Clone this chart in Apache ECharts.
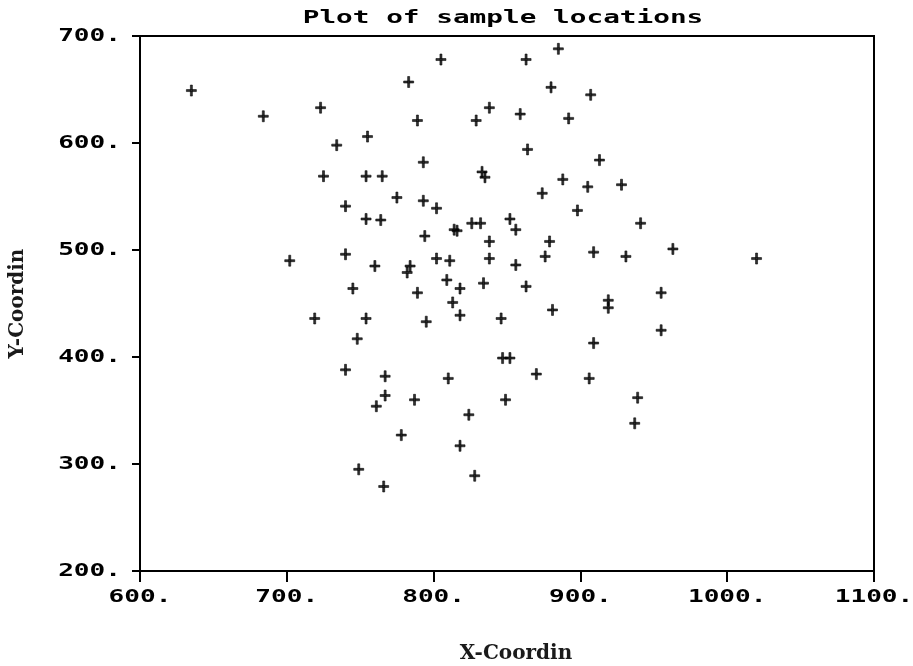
<!DOCTYPE html>
<html><head><meta charset="utf-8">
<script src="https://cdn.jsdelivr.net/npm/echarts@6/dist/echarts.min.js"></script>
<style>html,body{margin:0;padding:0;background:#fff}#c{width:913px;height:666px}</style>
</head><body><div id="c"></div>
<script>
const chartTitle = 'Plot of sample locations';
const xName = 'X-Coordin';
const yName = 'Y-Coordin';
const xTickValues = [600, 700, 800, 900, 1000, 1100];
const yTickValues = [200, 300, 400, 500, 600, 700];
const xCoord = [635,684,723,734,755,725,754,765,740,754,
  764,775,783,805,863,789,829,838,859,864,
  793,833,835,793,802,814,816,826,832,852,
  856,794,838,740,702,760,784,782,802,811,
  838,856,885,880,907,892,913,888,874,905,
  928,898,941,879,876,909,931,963,1020,745,
  789,809,818,834,863,813,818,719,754,795,
  846,748,847,852,740,767,810,767,787,849,
  761,824,778,818,749,828,766,955,919,919,
  881,955,909,870,906,939,937];
const yCoord = [649,625,633,598,606,569,569,569,541,529,
  528,549,657,678,678,621,621,633,627,594,
  582,573,568,546,539,519,518,525,525,529,
  519,513,508,496,490,485,485,479,492,490,
  492,486,688,652,645,623,584,566,553,559,
  561,537,525,508,494,498,494,501,492,464,
  460,472,464,469,466,451,439,436,436,433,
  436,417,399,399,388,382,380,364,360,360,
  354,346,327,317,295,289,279,460,453,446,
  444,425,413,384,380,362,338];

const points = xCoord.map((x, i) => [x, yCoord[i]]);
const chart = echarts.init(document.getElementById('c'), null, {renderer: 'canvas'});
const monoFont = 'bold 18px "DejaVu Sans Mono"';
const serifFont = '"DejaVu Serif"';

chart.setOption({
  animation: false,
  backgroundColor: '#fff',
  grid: {left: 140, right: 39, top: 36, bottom: 95, show: true, borderColor: '#000', borderWidth: 2,
         containLabel: false, outerBoundsMode: 'none'},
  xAxis: {
    type: 'value', min: 600, max: 1100, interval: 100,
    name: xName, nameLocation: 'middle', nameGap: 73,
    nameTextStyle: {fontFamily: serifFont, fontWeight: 'bold', fontSize: 20, color: '#1a1a1a', padding: [0, 0, 0, 18]},
    axisLine: {show: true, lineStyle: {color: '#000', width: 2}},
    axisTick: {show: true, length: 11, lineStyle: {color: '#000', width: 2}},
    axisLabel: {show: false},
    splitLine: {show: false}
  },
  yAxis: {
    type: 'value', min: 200, max: 700, interval: 100,
    name: yName, nameLocation: 'middle', nameGap: 112, nameRotate: 90,
    nameTextStyle: {fontFamily: serifFont, fontWeight: 'bold', fontSize: 20, color: '#1a1a1a'},
    axisLine: {show: true, lineStyle: {color: '#000', width: 2}},
    axisTick: {show: true, length: 8, lineStyle: {color: '#000', width: 2}},
    axisLabel: {show: false},
    splitLine: {show: false}
  },
  series: [{
    type: 'scatter',
    data: points,
    symbol: 'path://M4,0h2v11h-2zM0,4.5h10v2h-10z',
    symbolSize: [10, 11],
    itemStyle: {color: '#000', borderColor: '#000', borderWidth: 0.7}
  }]
});

// Tick labels and title drawn as stretched text to mimic the wide bitmap font
const graphics = [];
const gx0 = chart.convertToPixel({xAxisIndex: 0}, 600);
const gy0 = chart.convertToPixel({yAxisIndex: 0}, 200);
xTickValues.forEach(v => {
  const p = chart.convertToPixel({xAxisIndex: 0}, v);
  graphics.push({type: 'text', x: p, y: gy0 + 26, scaleX: 1.45,
    style: {text: v + '.', font: monoFont, fill: '#000', align: 'center', verticalAlign: 'middle', textAlign: 'center', textVerticalAlign: 'middle'}});
});
yTickValues.forEach(v => {
  const p = chart.convertToPixel({yAxisIndex: 0}, v);
  graphics.push({type: 'text', x: gx0 - 19, y: p, scaleX: 1.45,
    style: {text: v + '.', font: monoFont, fill: '#000', align: 'right', verticalAlign: 'middle', textAlign: 'right', textVerticalAlign: 'middle'}});
});
const xc = (gx0 + chart.convertToPixel({xAxisIndex: 0}, 1100)) / 2;
graphics.push({type: 'text', x: xc - 4, y: 18, scaleX: 1.54,
  style: {text: chartTitle, font: monoFont, fill: '#000', align: 'center', verticalAlign: 'middle', textAlign: 'center', textVerticalAlign: 'middle'}});
chart.setOption({graphic: graphics});
</script>
</body></html>
